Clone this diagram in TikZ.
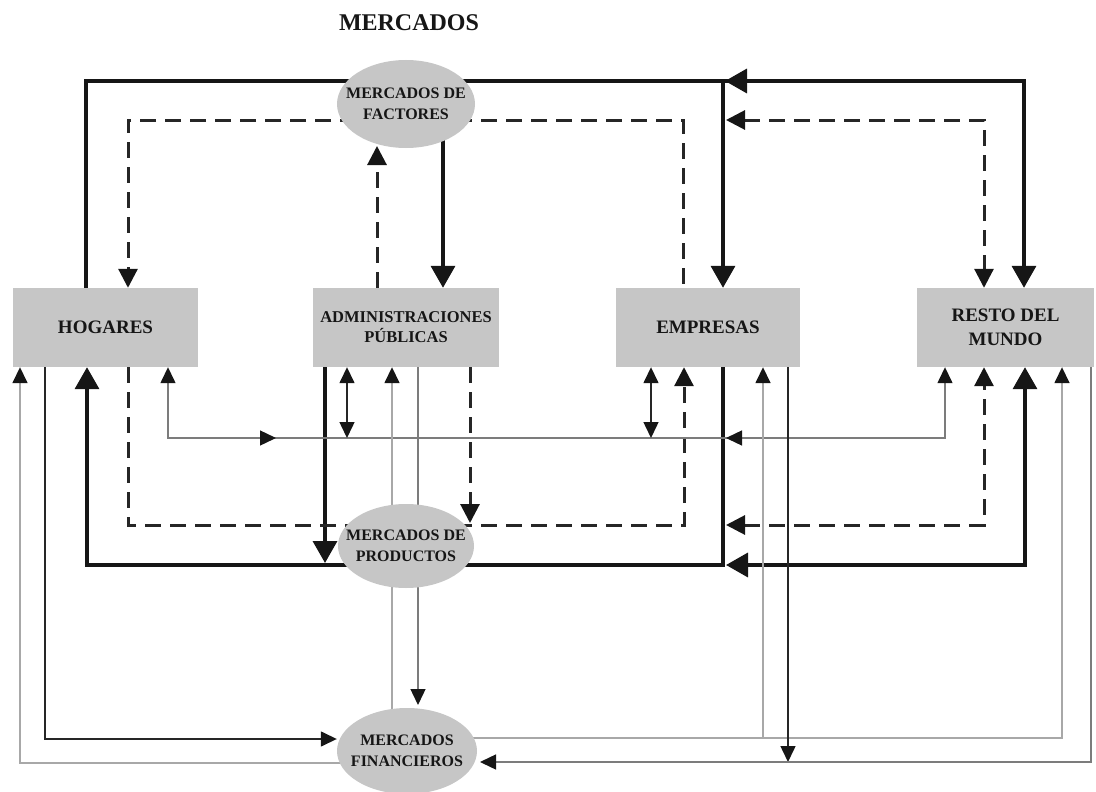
\documentclass[tikz,border=0pt]{standalone}
\usepackage{fontspec}
\setmainfont{Liberation Serif}
\usetikzlibrary{arrows.meta,shapes.geometric}
\definecolor{boxgray}{HTML}{C6C6C6}
\definecolor{ink}{HTML}{161616}
\definecolor{lightline}{HTML}{A8A8A8}
\definecolor{midline}{HTML}{7C7C7C}
\definecolor{darkline}{HTML}{262626}
\pgfdeclarelayer{bg}
\pgfsetlayers{bg,main}

\begin{document}
\begin{tikzpicture}[x=1pt,y=-1pt,
  agent/.style={rectangle, fill=boxgray, draw=none, minimum height=79pt,
    inner sep=0pt, align=center, text=ink,
    font=\bfseries\fontsize{19}{24}\selectfont},
  market/.style={ellipse, fill=boxgray, draw=none, inner sep=0pt},
  markettext/.style={align=center, text=ink, inner sep=0pt,
    font=\bfseries\fontsize{16}{21}\selectfont},
  heavy/.style={line width=3.5pt, draw=ink},
  dashflow/.style={line width=3pt, draw=darkline, dash pattern=on 16pt off 9pt},
  thinflow/.style={line width=1.5pt, draw=darkline},
  midflow/.style={line width=1.4pt, draw=midline},
  grayflow/.style={line width=1.6pt, draw=lightline},
  BigTip/.tip={Triangle[length=22pt,width=24pt,color=ink]},
  DashTip/.tip={Triangle[length=19pt,width=19pt,color=ink]},
  ThinTip/.tip={Triangle[length=16pt,width=15pt,color=ink]},
]
\useasboundingbox (0,0) rectangle (1096,792);

% title
\node[font=\bfseries\fontsize{24}{28}\selectfont, text=ink] (title) at (409,23) {MERCADOS};

% economic agents
\node[agent, minimum width=185pt] (hog) at (105.5,327.5) {HOGARES};
\node[agent, minimum width=186pt, font=\bfseries\fontsize{16.5}{20}\selectfont] (adm) at (406,327.5) {ADMINISTRACIONES\\PÚBLICAS};
\node[agent, minimum width=184pt] (emp) at (708,327.5) {EMPRESAS};
\node[agent, minimum width=177pt] (res) at (1005.5,327.5) {RESTO DEL\\MUNDO};

% markets: fixed-size ellipses with their names set on top
\node[market, minimum width=138pt, minimum height=88pt] (fac) at (406,104) {};
\node[markettext] (factxt) at (fac.center) {MERCADOS DE\\FACTORES};
\node[market, minimum width=136pt, minimum height=84pt] (pro) at (406,546) {};
\node[markettext] (protxt) at (pro.center) {MERCADOS DE\\PRODUCTOS};
\node[market, minimum width=140pt, minimum height=86pt] (fin) at (407,751) {};
\node[markettext] (fintxt) at (fin.center) {MERCADOS\\FINANCIEROS};

\begin{pgfonlayer}{bg}
% ---- factor market flows
\draw[heavy] (hog.north -| 86,0) -- (86,81) -- (fac.center |- 0,81);
\draw[heavy, -BigTip] (fac.center |- 0,81) -- (1024,81) -- (res.north -| 1024,0);
\draw[heavy, -BigTip] (1024,81) -- (725,81);
\draw[heavy, -BigTip] (723,81) -- (emp.north -| 723,0);
\draw[heavy, -BigTip] (fac.center -| 443,0) -- (adm.north -| 443,0);
\draw[dashflow, -DashTip] (fac.center |- 0,120) -- (128,120) -- (hog.north -| 128,0);
\draw[dashflow] (fac.center |- 0,120) -- (683,120) -- (emp.north -| 683,0);
\draw[dashflow, DashTip-DashTip] (726,120) -- (984,120) -- (res.north -| 984,0);
\draw[dashflow, -DashTip] (adm.north -| 377,0) -- (377,146);

% ---- product market flows
\draw[heavy, -BigTip] (pro.center |- 0,565) -- (87,565) -- (hog.south -| 87,0);
\draw[heavy] (pro.center |- 0,565) -- (723,565) -- (emp.south -| 723,0);
\draw[heavy, BigTip-BigTip] (726,565) -- (1025,565) -- (res.south -| 1025,0);
\draw[heavy, -BigTip] (adm.south -| 325,0) -- (325,563);
\draw[dashflow] (hog.south -| 128,0) -- (128,525) -- (pro.center |- 0,525);
\draw[dashflow, -DashTip] (pro.center |- 0,525) -- (684,525) -- (emp.south -| 684,0);
\draw[dashflow, DashTip-DashTip] (726,525) -- (984,525) -- (res.south -| 984,0);
\draw[dashflow, -DashTip] (adm.south -| 470,0) -- (470,523);

% ---- transfers
\draw[midflow, ThinTip-ThinTip] (hog.south -| 168,0) -- (168,438) -- (945,438) -- (res.south -| 945,0);
\draw[midflow, -ThinTip] (250,438) -- (276,438);
\draw[midflow, -ThinTip] (752,438) -- (726,438);
\draw[thinflow, ThinTip-ThinTip] (adm.south -| 347,0) -- (347,438);
\draw[thinflow, ThinTip-ThinTip] (emp.south -| 651,0) -- (651,438);

% ---- financial market flows
\draw[grayflow, -ThinTip] (fin.center |- 0,763) -- (20,763) -- (hog.south -| 20,0);
\draw[thinflow, -ThinTip] (hog.south -| 45,0) -- (45,739) -- (fin.west |- 0,739);
\draw[grayflow, -ThinTip] (fin.center -| 392,0) -- (adm.south -| 392,0);
\draw[midflow, -ThinTip] (adm.south -| 418,0) -- (418,705);
\draw[grayflow, -ThinTip] (fin.center |- 0,738) -- (1062,738) -- (res.south -| 1062,0);
\draw[grayflow, -ThinTip] (763,738) -- (emp.south -| 763,0);
\draw[thinflow, -ThinTip] (emp.south -| 788,0) -- (788,762);
\draw[midflow, -ThinTip] (res.south -| 1091,0) -- (1091,762) -- (480,762);
\end{pgfonlayer}
\end{tikzpicture}
\end{document}
